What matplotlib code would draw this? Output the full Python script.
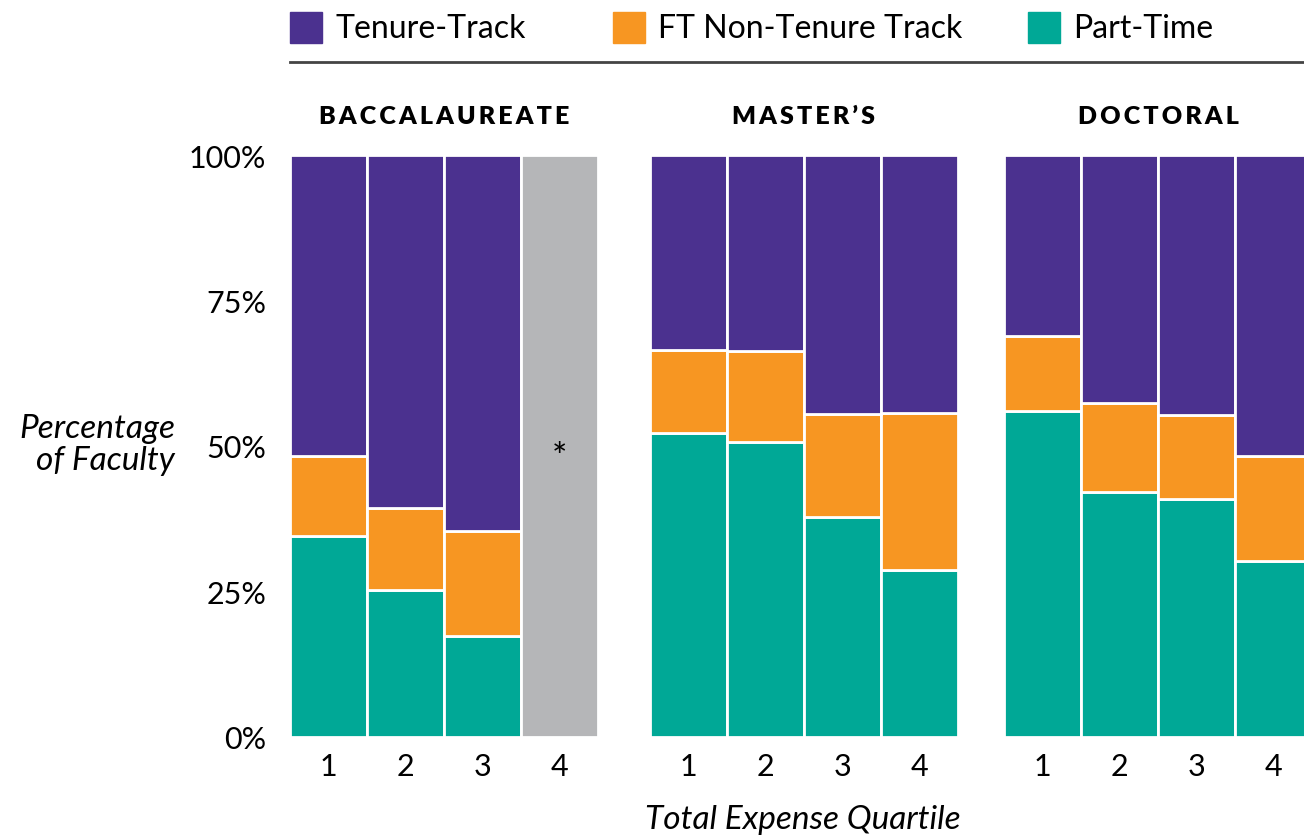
import numpy as np
import matplotlib
matplotlib.use("Agg")
import matplotlib.pyplot as plt
from matplotlib.patches import Rectangle
from matplotlib.lines import Line2D

plt.rcParams['font.family'] = ['Lato', 'DejaVu Sans']

# data (share of faculty, %)
panels = ["BACCALAUREATE", "MASTER\u2019S", "DOCTORAL"]
quartiles = ["1", "2", "3", "4"]
part_time = [
    [34.5, 25.3, 17.4, np.nan],
    [52.2, 50.7, 37.8, 28.7],
    [56.0, 42.1, 40.9, 30.2],
]
ft_non_tenure = [
    [13.8, 14.0, 18.0, np.nan],
    [14.3, 15.6, 17.7, 27.0],
    [12.9, 15.3, 14.4, 18.1],
]
yticks = [0, 25, 50, 75, 100]
ytick_labels = ["0%", "25%", "50%", "75%", "100%"]

c_tt = "#4B318F"
c_ft = "#F79622"
c_pt = "#00A896"
c_na = "#B5B6B8"

fig = plt.figure(figsize=(13.04, 8.37), dpi=100)

lefts = [290, 650, 1004]
for k, name in enumerate(panels):
    ax = fig.add_axes([lefts[k] / 1304, 1 - 738 / 837, 308 / 1304, 582 / 837])
    x = np.arange(4)
    pt = np.array(part_time[k])
    ft = np.array(ft_non_tenure[k])
    tt = 100 - pt - ft
    ok = ~np.isnan(pt)
    kw = dict(width=1.0, edgecolor="white", linewidth=2)
    ax.bar(x[ok], pt[ok], color=c_pt, **kw)
    ax.bar(x[ok], ft[ok], bottom=pt[ok], color=c_ft, **kw)
    ax.bar(x[ok], tt[ok], bottom=(pt + ft)[ok], color=c_tt, **kw)
    for i in x[~ok]:
        # no data for this quartile
        ax.bar(i, 100, color=c_na, **kw)
        ax.text(i, 48, "*", ha="center", va="center", fontsize=26)
    ax.set_xlim(-0.5, 3.5)
    ax.set_ylim(0, 100)
    for s in ax.spines.values():
        s.set_visible(False)
    ax.set_xticks(x)
    ax.set_xticklabels(quartiles, fontsize=22)
    ax.tick_params(length=0, pad=11)
    if k == 0:
        ax.set_yticks(yticks)
        ax.set_yticklabels(ytick_labels, fontsize=22)
        ax.tick_params(axis="y", pad=17)
    else:
        ax.set_yticks([])
    ax.set_title("\u2009".join(name), fontsize=18, fontweight="heavy", pad=23)

# y label and x label
fig.text(175 / 1304, 1 - 445 / 837, "Percentage\nof Faculty", ha="right", va="center",
         fontsize=24, style="italic", linespacing=1.12)
fig.text(803 / 1304, 1 - 820 / 837, "Total Expense Quartile", ha="center", va="center",
         fontsize=24, style="italic")

# legend
legend_items = [("Tenure-Track", c_tt, 290), ("FT Non-Tenure Track", c_ft, 613), ("Part-Time", c_pt, 1028)]
for label, col, lx in legend_items:
    fig.patches.append(Rectangle((lx / 1304, 1 - 44 / 837), 32 / 1304, 31 / 837,
                                 transform=fig.transFigure, color=col))
    fig.text((lx + 45) / 1304, 1 - 29 / 837, label, ha="left", va="center", fontsize=23)
fig.lines.append(Line2D([290 / 1304, 1], [1 - 63 / 837] * 2, transform=fig.transFigure,
                        color="#444444", linewidth=2))

fig.savefig("out.png", dpi=100)
